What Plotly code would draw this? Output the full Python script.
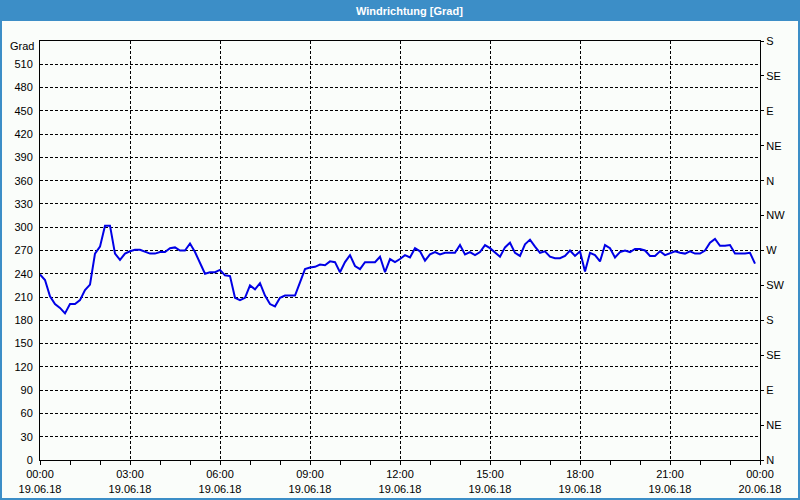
import pandas as pd
import plotly.graph_objects as go

# ---- data (10-minute values, 19.06.18 00:00 - 23:50) ----
START = "2018-06-19 00:00"
END = "2018-06-20 00:00"
STEP = "10min"
wind_dir = [
    239, 232, 211, 201, 196, 189, 201, 201, 206, 219, 226, 266, 275, 302, 302, 266,
    258, 266, 269, 271, 271, 269, 266, 266, 268, 268, 273, 274, 270, 270, 279, 268,
    255, 240, 242, 242, 245, 238, 237, 209, 206, 209, 225, 220, 228, 212, 201, 198,
    209, 212, 212, 212, 229, 246, 248, 249, 252, 251, 256, 255, 242, 255, 264, 250,
    246, 255, 255, 255, 262, 242, 259, 255, 259, 264, 261, 273, 269, 257, 265, 268,
    265, 267, 267, 267, 277, 265, 268, 264, 268, 277, 273, 267, 262, 274, 280, 267,
    263, 278, 284, 275, 267, 269, 262, 260, 260, 263, 270, 263, 269, 243, 267, 264,
    256, 277, 273, 261, 268, 270, 268, 272, 272, 270, 263, 263, 269, 264, 266, 269,
    267, 266, 269, 266, 266, 270, 280, 285, 276, 276, 277, 266, 266, 266, 267, 253,
]
times = pd.date_range(START, periods=len(wind_dir), freq=STEP)

y_ticks = list(range(0, 540, 30))
compass_vals = list(range(0, 541, 45))
compass_text = ["N", "NE", "E", "SE", "S", "SW", "W", "NW", "N", "NE", "E", "SE", "S"]
title_text = "Windrichtung [Grad]"
unit_text = "Grad"

# ---- layout geometry (pixels) ----
W, H = 800, 500
L, R, T, B = 40, 40, 41, 40
PW, PH = W - L - R, H - T - B


def px_x(x):
    return (x - L) / PW


def px_y(y):
    return (H - B - y) / PH


BLUE = "#3C8EC7"
BG = "#FAFDFA"
FONT = "Liberation Sans"

fig = go.Figure()
fig.add_trace(go.Scatter(
    x=times, y=wind_dir, mode="lines",
    line=dict(color="#0000E6", width=2),
    hoverinfo="x+y", showlegend=False,
))
# invisible trace to activate the right compass axis
fig.add_trace(go.Scatter(
    x=times, y=wind_dir, mode="lines", yaxis="y2",
    line=dict(color="rgba(0,0,0,0)", width=0),
    hoverinfo="skip", showlegend=False,
))

fig.update_layout(
    width=W, height=H,
    margin=dict(l=L, r=R, t=T, b=B, pad=0),
    paper_bgcolor=BG, plot_bgcolor=BG,
    font=dict(family=FONT, size=11, color="black"),
    xaxis=dict(
        type="date", range=[START, END],
        tick0=START, dtick=3 * 3600000,
        tickformat="%H:%M<br>%d.%m.%y",
        showline=True, linecolor="black", linewidth=1, mirror=True,
        showgrid=True, gridcolor="black", gridwidth=1, griddash="3px,2px",
        ticks="outside", ticklen=4, tickcolor="black",
        minor=dict(dtick=3600000, ticks="outside", ticklen=4, tickcolor="black", showgrid=False),
        zeroline=False, fixedrange=True, automargin=False,
    ),
    yaxis=dict(
        range=[0, 540], tickmode="array", tickvals=y_ticks,
        showline=True, linecolor="black", linewidth=1, mirror=True,
        showgrid=True, gridcolor="black", gridwidth=1, griddash="3px,2px",
        ticks="", zeroline=False, ticklabelstandoff=4, fixedrange=True,
        automargin=False,
    ),
    yaxis2=dict(
        range=[0, 540], overlaying="y", side="right", anchor="x",
        tickmode="array", tickvals=compass_vals, ticktext=compass_text,
        showgrid=False, zeroline=False, showline=False,
        ticks="outside", ticklen=3, tickcolor="black", fixedrange=True,
        automargin=False,
    ),
    shapes=[
        dict(type="rect", xref="paper", yref="paper",
             x0=px_x(0), x1=px_x(W), y0=px_y(0), y1=px_y(21),
             fillcolor=BLUE, line=dict(width=0), layer="above"),
        dict(type="rect", xref="paper", yref="paper",
             x0=px_x(1), x1=px_x(W - 1), y0=px_y(1), y1=px_y(H - 1),
             fillcolor="rgba(0,0,0,0)", line=dict(color=BLUE, width=2), layer="above"),
    ],
    annotations=[
        dict(text="<b>" + title_text + "</b>", xref="paper", yref="paper",
             x=px_x(410), y=px_y(11), xanchor="center", yanchor="middle",
             showarrow=False, font=dict(family=FONT, size=11, color="white")),
        dict(text=unit_text, xref="paper", yref="paper",
             x=px_x(36), y=px_y(46), xanchor="right", yanchor="middle",
             showarrow=False, font=dict(family=FONT, size=11, color="black")),
    ],
)

fig.write_html("out.html")
